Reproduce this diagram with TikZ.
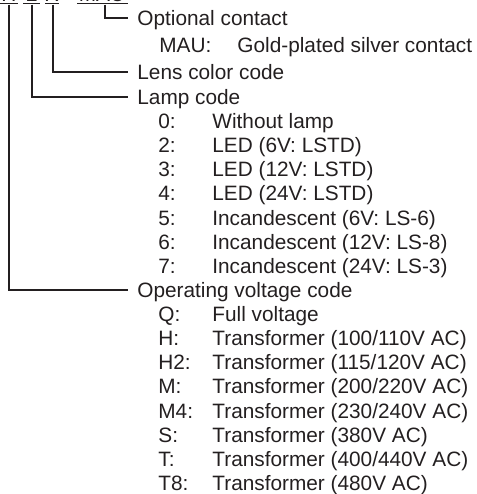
\documentclass[tikz,border=0pt]{standalone}
\usepackage{fontspec}
\setmainfont{Liberation Sans}
\usepackage{tikz}

\definecolor{ink}{HTML}{231F20}

\tikzset{
  codechar/.style={anchor=base,inner sep=0pt,text=ink},
  txt/.style={anchor=west,text height=7.4pt,text depth=0pt,text=ink},
  head/.style={txt,inner xsep=4.5pt,inner ysep=0pt},
  key/.style={txt,inner sep=0pt},
  desc/.style={txt,inner sep=0pt},
  lead/.style={draw=ink,line width=0.6pt},
  uline/.style={draw=ink,line width=0.9pt}
}

\begin{document}
\begin{tikzpicture}[x=0.5pt,y=-0.5pt,font=\fontsize{10.4}{12}\selectfont]
\useasboundingbox (0,0) rectangle (477,494);

% code letters (cut at the top)
\node[codechar] (cv) at (9,1) {H};
\node[codechar] (cl) at (32,1) {2};
\node[codechar] (cc) at (52,1) {R};
\node[codechar] (co) at (102,1) {MAU};
\draw[uline] (0,3.5) -- (18,3.5);
\draw[uline] (23,3.5) -- (40,3.5);
\draw[uline] (45,3.5) -- (59,3.5);
\draw[uline] (77,3.5) -- (128,3.5);

% headings
\node[head] (opt) at (128,18) {Optional contact};
\node[head] (lens) at (128,72) {Lens color code};
\node[head] (lamp) at (128,97) {Lamp code};
\node[head] (volt) at (128,290) {Operating voltage code};

% optional contact
\node[key] (kmau) at (159,45) {MAU:};
\node[desc] (dmau) at (237,45) {Gold-plated silver contact};

% lamp code
\node[key] (k0) at (158,121) {0:};
\node[desc] (d0) at (212,121) {Without lamp};
\node[key] (k2) at (158,145) {2:};
\node[desc] (d2) at (212,145) {LED (6V: LSTD)};
\node[key] (k3) at (158,169) {3:};
\node[desc] (d3) at (212,169) {LED (12V: LSTD)};
\node[key] (k4) at (158,193) {4:};
\node[desc] (d4) at (212,193) {LED (24V: LSTD)};
\node[key] (k5) at (158,218) {5:};
\node[desc] (d5) at (212,218) {Incandescent (6V: LS-6)};
\node[key] (k6) at (158,242) {6:};
\node[desc] (d6) at (212,242) {Incandescent (12V: LS-8)};
\node[key] (k7) at (158,266) {7:};
\node[desc] (d7) at (212,266) {Incandescent (24V: LS-3)};

% operating voltage code
\node[key] (kq) at (158,314) {Q:};
\node[desc] (dq) at (212,314) {Full voltage};
\node[key] (kh) at (158,338) {H:};
\node[desc] (dh) at (212,338) {Transformer (100/110V AC)};
\node[key] (kh2) at (158,362) {H2:};
\node[desc] (dh2) at (212,362) {Transformer (115/120V AC)};
\node[key] (km) at (158,386) {M:};
\node[desc] (dm) at (212,386) {Transformer (200/220V AC)};
\node[key] (km4) at (158,411) {M4:};
\node[desc] (dm4) at (212,411) {Transformer (230/240V AC)};
\node[key] (ks) at (158,435) {S:};
\node[desc] (ds) at (212,435) {Transformer (380V AC)};
\node[key] (kt) at (158,459) {T:};
\node[desc] (dt) at (212,459) {Transformer (400/440V AC)};
\node[key] (kt8) at (158,483) {T8:};
\node[desc] (dt8) at (212,483) {Transformer (480V AC)};

% leaders
\draw[lead] ([yshift=-1.75pt]cv.base) |- (volt.west);
\draw[lead] ([yshift=-1.75pt]cl.base) |- (lamp.west);
\draw[lead] ([xshift=0.5pt,yshift=-1.75pt]cc.base) |- (lens.west);
\draw[lead] ([xshift=1.5pt,yshift=-1.75pt]co.base) |- (opt.west);
\end{tikzpicture}
\end{document}
